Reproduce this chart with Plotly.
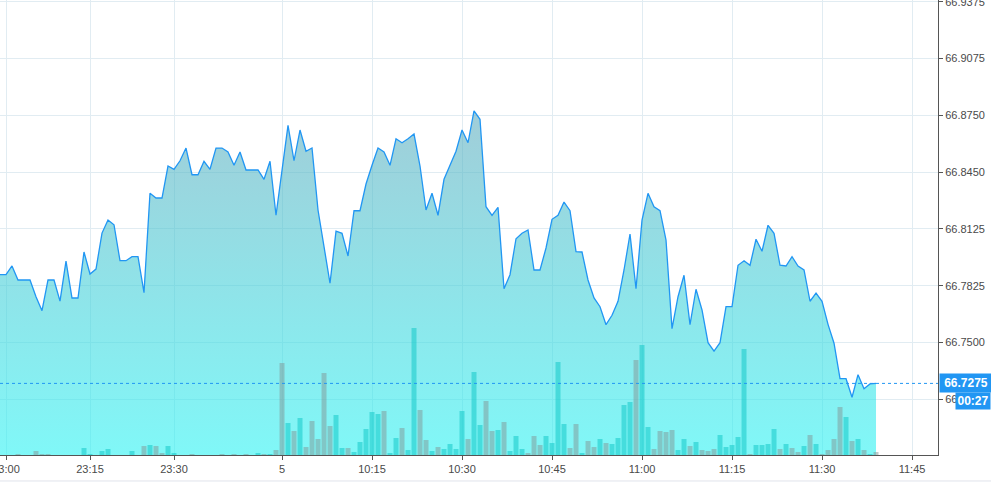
import plotly.graph_objects as go

# 1-minute bars, index 0 = 23:00 (overnight gap collapsed, session 5 starts at 10:00)
minutes = list(range(-1, 146))

price = [
    66.7873, 66.7873, 66.7921, 66.7844, 66.7844, 66.7844, 66.7752, 66.7675, 66.7844, 66.7844,
    66.7728, 66.7948, 66.7745, 66.7745, 66.7998, 66.7877, 66.7904, 66.8102, 66.8174, 66.8148,
    66.7950, 66.7950, 66.7972, 66.7972, 66.7774, 66.8321, 66.8295, 66.8295, 66.8471, 66.8453,
    66.8500, 66.8570, 66.8423, 66.8423, 66.8497, 66.8453, 66.8570, 66.8570, 66.8548, 66.8475,
    66.8548, 66.8449, 66.8449, 66.8449, 66.8398, 66.8497, 66.8200, 66.8460, 66.8695, 66.8500,
    66.8669, 66.8552, 66.8570, 66.8229, 66.8027, 66.7826, 66.8113, 66.8101, 66.7976, 66.8225,
    66.8225, 66.8372, 66.8475, 66.8570, 66.8548, 66.8475, 66.8621, 66.8599, 66.8621, 66.8647,
    66.8471, 66.8229, 66.8321, 66.8200, 66.8398, 66.8475, 66.8552, 66.8669, 66.8599, 66.8775,
    66.8728, 66.8247, 66.8200, 66.8244, 66.7796, 66.7873, 66.8071, 66.8101, 66.8119, 66.7899,
    66.7899, 66.8020, 66.8178, 66.8200, 66.8273, 66.8225, 66.8000, 66.7998, 66.7844, 66.7745,
    66.7697, 66.7598, 66.7650, 66.7727, 66.7899, 66.8097, 66.7796, 66.8174, 66.8321, 66.8247,
    66.8225, 66.8064, 66.7576, 66.7752, 66.7870, 66.7598, 66.7793, 66.7679, 66.7499, 66.7452,
    66.7499, 66.7697, 66.7697, 66.7925, 66.7950, 66.7925, 66.8068, 66.8002, 66.8145, 66.8101,
    66.7925, 66.7921, 66.7972, 66.7921, 66.7899, 66.7727, 66.7772, 66.7727, 66.7600, 66.7496,
    66.7301, 66.7301, 66.7199, 66.7323, 66.7246, 66.7272, 66.7275,
]

volume = [
    0, 0, 0, 1, 0, 0, 4, 1, 1, 0,
    0, 0, 0, 0, 7, 1, 0, 4, 6, 0,
    0, 0, 4, 0, 9, 10, 9, 2, 9, 2,
    0, 0, 1, 0, 0, 0, 0, 1, 0, 1,
    0, 1, 0, 2, 1, 1, 5, 92, 32, 24,
    37, 8, 34, 16, 82, 29, 40, 7, 7, 3,
    13, 26, 43, 41, 44, 2, 17, 27, 5, 127,
    45, 15, 4, 8, 6, 11, 6, 44, 16, 83,
    30, 54, 24, 25, 33, 4, 19, 6, 2, 19,
    10, 19, 12, 93, 31, 7, 31, 2, 14, 8,
    16, 12, 11, 17, 50, 53, 95, 110, 28, 6,
    24, 23, 25, 5, 16, 9, 13, 5, 4, 6,
    20, 8, 10, 18, 106, 1, 10, 10, 11, 26,
    6, 11, 7, 3, 9, 20, 11, 1, 5, 16,
    48, 38, 14, 16, 5, 1, 3,
]

# u = up bar, d = down bar (same order as volume)
direction = "".join([
    "uuuduudddu",
    "uuuuuuuuuu",
    "uuuududduu",
    "uuduuuudud",
    "uduududdud",
    "uddddduudu",
    "uuuuduuduu",
    "dduduuuudu",
    "udduduuudd",
    "duuuuddudd",
    "uduuuuduud",
    "ddduududdd",
    "uuuuuduuuu",
    "duddududdd",
    "dududud",
])

last_price = 66.7275
countdown = "00:27"

x_tickvals = [0, 14, 28, 46, 61, 76, 91, 106, 121, 136, 151]
x_ticktext = ["23:00", "23:15", "23:30", "5", "10:15", "10:30", "10:45",
              "11:00", "11:15", "11:30", "11:45"]

y_tickvals = [66.9375, 66.90625, 66.875, 66.84375, 66.8125, 66.78125, 66.75, 66.71875]
y_ticktext = ["66.9375", "66.9075", "66.8750", "66.8450", "66.8125", "66.7825",
              "66.7500", "66.7200"]

line_color = "#2196f3"
grid_color = "#e1ecf2"
axis_color = "#555555"
bar_colors = ["rgba(20,200,200,0.55)" if d == "u" else "rgba(130,150,150,0.5)"
              for d in direction]

fig = go.Figure()

fig.add_trace(go.Scatter(
    x=minutes, y=price, mode="lines",
    line=dict(color=line_color, width=1.3),
    fill="tozeroy",
    fillgradient=dict(
        type="vertical",
        start=66.6875, stop=max(price),
        colorscale=[[0, "rgba(43,243,243,0.6)"], [1, "rgba(97,172,190,0.6)"]],
    ),
    hoverinfo="skip",
))

fig.add_trace(go.Bar(
    x=minutes, y=volume, yaxis="y2",
    marker=dict(color=bar_colors, line=dict(width=0)),
    hoverinfo="skip",
))

# last price line
fig.add_shape(type="line", xref="paper", x0=0, x1=1, yref="y", y0=last_price, y1=last_price,
              line=dict(color=line_color, width=1, dash="dot"))
# faint frame line along the bottom of the widget
fig.add_shape(type="line", xref="paper", x0=-0.01, x1=1.06, yref="paper", y0=-0.0571, y1=-0.0571,
              line=dict(color="#e0e3eb", width=1))

fig.add_annotation(
    x=1, xref="paper", xanchor="left", xshift=1,
    y=last_price, yref="y", yanchor="middle",
    text="<b>%.4f</b>" % last_price, showarrow=False,
    bgcolor=line_color, font=dict(color="white", size=12, family="Liberation Sans"),
    width=48, borderpad=2,
)
fig.add_annotation(
    x=1, xref="paper", xanchor="left", xshift=17,
    y=last_price, yref="y", yanchor="middle", yshift=-18,
    text="<b>%s</b>" % countdown, showarrow=False,
    bgcolor=line_color, font=dict(color="white", size=12, family="Liberation Sans"),
    width=32, borderpad=1,
)

fig.update_layout(
    width=991, height=482,
    margin=dict(l=0, r=53, t=0, b=27, autoexpand=False),
    paper_bgcolor="white", plot_bgcolor="white",
    showlegend=False, bargap=0.17,
    font=dict(family="Liberation Sans", size=11, color="#4a4a4a"),
    xaxis=dict(
        range=[-1, 155.33], automargin=False, ticklabeloverflow="allow",
        tickvals=x_tickvals, ticktext=x_ticktext,
        showgrid=True, gridcolor=grid_color, gridwidth=1,
        showline=True, linecolor=axis_color, linewidth=1,
        ticks="outside", ticklen=4, tickcolor=axis_color,
        zeroline=False,
    ),
    yaxis=dict(
        side="right", range=[66.68811, 66.93844], automargin=False, ticklabeloverflow="allow",
        tickvals=y_tickvals, ticktext=y_ticktext,
        showgrid=True, gridcolor=grid_color, gridwidth=1,
        showline=True, linecolor=axis_color, linewidth=1,
        ticks="outside", ticklen=4, tickcolor=axis_color,
        zeroline=False,
    ),
    yaxis2=dict(
        overlaying="y", range=[0, 455], visible=False, showgrid=False,
    ),
)

# page body has a default 8px margin; drop it so the chart fills the window
fig.write_html("out.html", config={"displayModeBar": False},
               post_script="document.body.style.margin='0';")
